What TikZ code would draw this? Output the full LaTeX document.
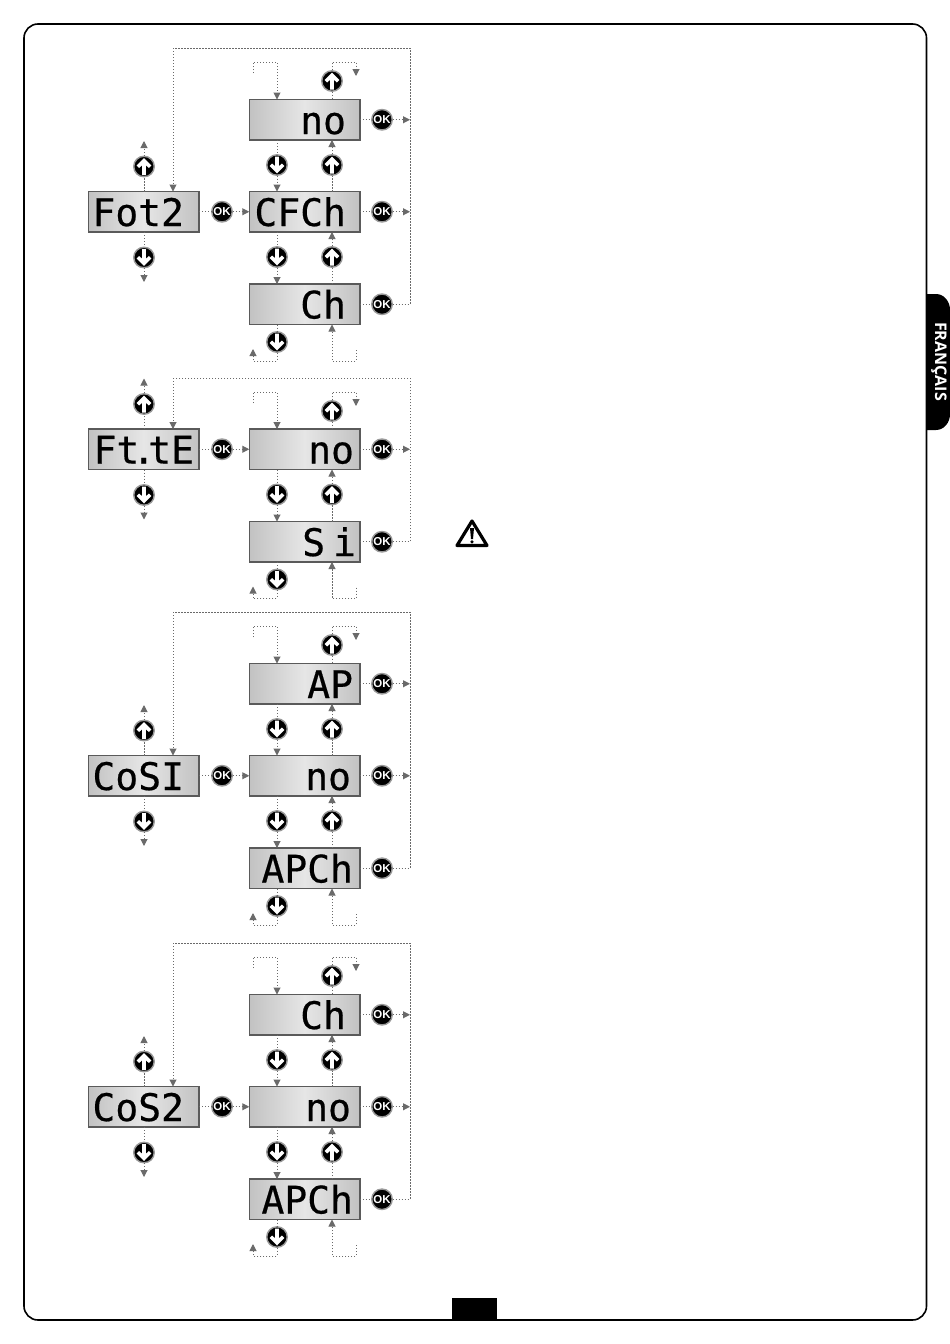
\documentclass[tikz,border=0pt]{standalone}
\usepackage{fontspec}
\usetikzlibrary{arrows.meta}
\setmainfont{Liberation Sans}
\newfontfamily\segfont[FakeBold=0.5]{DejaVu Sans Mono}
\newfontfamily\tabfont{Open Sans}
\definecolor{dotc}{HTML}{6A6A6A}
\definecolor{boxedge}{HTML}{5A5A5A}
\definecolor{boxdark}{HTML}{C2C2C2}
\definecolor{boxlight}{HTML}{E6E6E6}
\tikzset{
  disp/.style={draw=boxedge,line width=1.5pt,left color=boxdark,right color=boxdark,middle color=boxlight,
    minimum width=110.5pt,minimum height=40.5pt,inner sep=0pt,outer sep=0pt},
  seg/.style={font=\segfont\fontsize{38}{38}\selectfont,inner sep=0pt,outer sep=0pt,anchor=base east,text=black},
  btn/.style={circle,fill=black,draw=black!40,line width=1.4pt,minimum size=20.5pt,inner sep=0pt,outer sep=0.3pt},
  okbtn/.style={btn,text=white,font=\bfseries\fontsize{11.5}{11.5}\selectfont},
  dots/.style={draw=dotc,line width=1pt,dash pattern=on 1.3pt off 1.7pt},
  darr/.style={dots,-{Triangle[length=7pt,width=7pt,fill=dotc,color=dotc,sep=0pt]}},
}
% white arrow glyph: #1 x, #2 y, #3 direction (1 up, -1 down)
\newcommand\Glyph[3]{\fill[white,shift={(#1,#2)},yscale=#3] (0,-8.5) -- (7.3,-1) -- (4.8,1.5) -- (1.8,-1.4) -- (1.8,8.5) -- (-1.8,8.5) -- (-1.8,-1.4) -- (-4.8,1.5) -- (-7.3,-1) -- cycle;}
\newcommand\UpBtn[3]{\node[btn] (#1) at (#2,#3) {};\Glyph{#2}{#3}{1}}
\newcommand\DnBtn[3]{\node[btn] (#1) at (#2,#3) {};\Glyph{#2}{#3}{-1}}
% left display: prefix, top y, text, right end of text
\newcommand\LeftPart[4]{%
  \node[disp] (#1L) at (143.75,#2+20.25) {};
  \node[seg] (#1Lt) at (#4,#2+34.5) {#3};
  \UpBtn{#1Lu}{144}{#2-25}
  \DnBtn{#1Ld}{144}{#2+66}
  \coordinate (#1Lua) at (144,#2-50.5);
  \coordinate (#1Lda) at (144,#2+90.5);
  \draw[dots] (#1Lu.north |- #1L.north) -- (#1Lu.south);
  \draw[darr] (#1Lu.north) -- (#1Lua);
  \draw[dots] (#1Ld.north |- #1L.south) -- (#1Ld.north);
  \draw[darr] (#1Ld.south) -- (#1Lda);
  \node[okbtn] (#1Lok) at (222,#2+20.25) {OK};
  \draw[dots] (#1L.east) -- (#1Lok.west);
}
% right display row: name, top y, text, right end
\newcommand\Row[4]{%
  \node[disp] (#1) at (304.5,#2+20.25) {};
  \node[seg] (#1t) at (#4,#2+34.5) {#3};
  \node[okbtn] (#1ok) at (382,#2+20.25) {OK};
  \draw[dots] (#1.east) -- (#1ok.west);
}
% top loops above first row: prefix, row name
\newcommand\TopLoops[2]{%
  \UpBtn{#1tu}{332}{81+\OFFS}
  \coordinate (#1a) at (253,73+\OFFS);
  \coordinate (#1b) at (277,62+\OFFS);
  \coordinate (#1c) at (332,62+\OFFS);
  \coordinate (#1d) at (356,62+\OFFS);
  \coordinate (#1e) at (356,76+\OFFS);
  \draw[darr] (#1a) |- (#1b) -- (#1b |- #2.north);
  \draw[dots] (#1tu.south) -- (#1tu.south |- #2.north);
  \draw[darr] (#1tu.north) -- (#1c) -- (#1d) -- (#1e);
}
% buttons between rows
\newcommand\Between[3]{%
  \DnBtn{#1dn}{277}{#3+65.5}
  \UpBtn{#1up}{332}{#3+65.5}
  \draw[dots] (#1dn.north |- #2.south) -- (#1dn.north);
}
\newcommand\BetweenLines[3]{%
  \draw[darr] (#1dn.south) -- (#1dn.south |- #3.north);
  \draw[dots] (#1up.south |- #3.north) -- (#1up.south);
  \draw[darr] (#1up.north) -- (#1up.north |- #2.south);
}
% bottom loops: prefix, last row name, its top
\newcommand\BottomLoops[3]{%
  \DnBtn{#1bd}{277}{#3+58}
  \coordinate (#1p) at (253,#3+65);
  \coordinate (#1q) at (277,#3+77);
  \coordinate (#1r) at (332,#3+77);
  \coordinate (#1s) at (356,#3+66);
  \draw[dots] (#1bd.north |- #2.south) -- (#1bd.north);
  \draw[darr] (#1bd.south) -- (#1q) -| (#1p);
  \draw[darr] (#1s) |- (#1r) -- (#1r |- #2.south);
}
% trunk from OK buttons back to left box
\newcommand\Trunk[3]{%
  \coordinate (#1tr) at (410,48+\OFFS);
  \coordinate (#1tl) at (173,48+\OFFS);
  \draw[dots] (#3ok.east) -| (#1tr) -- (#1tl);
  \draw[darr] (#1tl) -- (#1tl |- #2.north);
}
\begin{document}
\begin{tikzpicture}[x=1pt,y=-1pt]
\useasboundingbox (0,0) rectangle (950,1344);
\fill[white] (0,0) rectangle (950,1344);
% page frame
\draw[black,line width=1.6pt,rounded corners=14pt] (24,24) rectangle (926.5,1320);
% language tab
\fill[black] (926,294) -- (936,294) to[out=0,in=90] (950,310) -- (950,414) to[out=-90,in=0] (936,430) -- (926,430) -- cycle;
\node[rotate=-90,text=white,inner sep=0pt,font=\tabfont\bfseries\fontsize{16}{16}\selectfont] (tab) at (939,361.5) {FRANÇAIS};
\fill[black] (452,1298) rectangle (497,1320);
% warning sign
\draw[black,line width=3.2pt,line join=round] (472,521) -- (457,545.5) -- (487,545.5) -- cycle;
\fill[black] (470,528) -- (474,528) -- (473,539) -- (471,539) -- cycle;
\fill[black] (472,541.8) circle (1.8);

% ---- block 1
\def\OFFS{0}
\LeftPart{a}{191.5}{Fot2}{184}
\Row{aA}{99.5}{no}{346}
\Row{aB}{191.5}{CFCh}{346}
\Row{aC}{284}{Ch}{346}
\draw[darr] (aLok.east) -- (aL.east -| aB.west);
\TopLoops{a}{aA}
\Between{aX}{aA}{99.5}
\Between{aY}{aB}{191.5}
\BetweenLines{aX}{aA}{aB}
\BetweenLines{aY}{aB}{aC}
\BottomLoops{a}{aC}{284}
\Trunk{a}{aL}{aC}
\draw[darr] (aAok.east) -- (aAok -| atr);
\draw[darr] (aBok.east) -- (aBok -| atr);

% ---- block 2
\def\OFFS{330}
\LeftPart{b}{429}{Ft\kern-7pt.\kern-7pt tE}{194}
\Row{bA}{429}{no}{354}
\Row{bB}{521.5}{S\kern8pt i}{356}
\draw[darr] (bLok.east) -- (bL.east -| bB.west);
\TopLoops{b}{bA}
\Between{bX}{bA}{429}
\BetweenLines{bX}{bA}{bB}
\BottomLoops{b}{bB}{521.5}
\Trunk{b}{bL}{bB}
\draw[darr] (bAok.east) -- (bAok -| btr);

% ---- block 3
\def\OFFS{564}
\LeftPart{c}{755.5}{CoSI}{184}
\Row{cA}{663.5}{AP}{353}
\Row{cB}{755.5}{no}{351}
\Row{cC}{848}{APCh}{353}
\draw[darr] (cLok.east) -- (cL.east -| cB.west);
\TopLoops{c}{cA}
\Between{cX}{cA}{663.5}
\Between{cY}{cB}{755.5}
\BetweenLines{cX}{cA}{cB}
\BetweenLines{cY}{cB}{cC}
\BottomLoops{c}{cC}{848}
\Trunk{c}{cL}{cC}
\draw[darr] (cAok.east) -- (cAok -| ctr);
\draw[darr] (cBok.east) -- (cBok -| ctr);

% ---- block 4
\def\OFFS{895}
\LeftPart{d}{1086.5}{CoS2}{184}
\Row{dA}{994.5}{Ch}{346}
\Row{dB}{1086.5}{no}{351}
\Row{dC}{1179}{APCh}{353}
\draw[darr] (dLok.east) -- (dL.east -| dB.west);
\TopLoops{d}{dA}
\Between{dX}{dA}{994.5}
\Between{dY}{dB}{1086.5}
\BetweenLines{dX}{dA}{dB}
\BetweenLines{dY}{dB}{dC}
\BottomLoops{d}{dC}{1179}
\Trunk{d}{dL}{dC}
\draw[darr] (dAok.east) -- (dAok -| dtr);
\draw[darr] (dBok.east) -- (dBok -| dtr);
\end{tikzpicture}
\end{document}
